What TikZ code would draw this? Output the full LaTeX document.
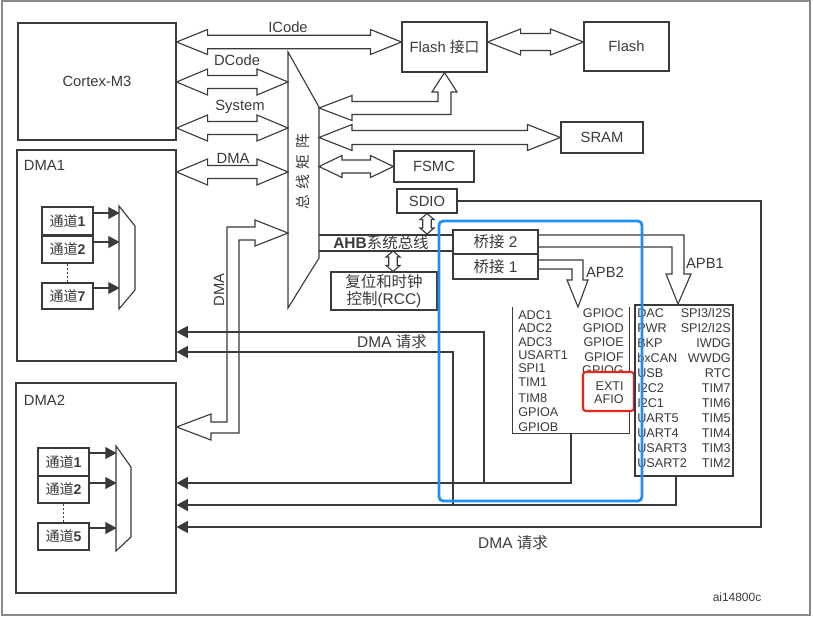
\documentclass[tikz,border=0pt]{standalone}
\usepackage{fontspec}
\setmainfont{Liberation Sans}
\newfontfamily\cjk{Noto Sans CJK SC}
\usepackage{tikz}
\usetikzlibrary{calc,arrows.meta}
\definecolor{ink}{HTML}{3A3A3A}
\definecolor{framegray}{HTML}{8A8A8A}
\definecolor{hlblue}{HTML}{1E90F5}
\definecolor{hlred}{HTML}{E8261E}

% hollow double bus arrow: left tip, right tip, shaft half, head half, head length
\newcommand{\busarrowh}[5]{%
  \coordinate (hl) at (#1);
  \coordinate (hr) at (#2);
  \draw[bus] (hl) -- ($(hl)+(#5,-#4)$) -- ($(hl)+(#5,-#3)$) -- ($(hr)+(-#5,-#3)$)
    -- ($(hr)+(-#5,-#4)$) -- (hr) -- ($(hr)+(-#5,#4)$) -- ($(hr)+(-#5,#3)$)
    -- ($(hl)+(#5,#3)$) -- ($(hl)+(#5,#4)$) -- cycle;}
% same, vertical: top tip, bottom tip
\newcommand{\busarrowv}[5]{%
  \coordinate (vt) at (#1);
  \coordinate (vb) at (#2);
  \draw[bus] (vt) -- ($(vt)+(#4,#5)$) -- ($(vt)+(#3,#5)$) -- ($(vb)+(#3,-#5)$)
    -- ($(vb)+(#4,-#5)$) -- (vb) -- ($(vb)+(-#4,-#5)$) -- ($(vb)+(-#3,-#5)$)
    -- ($(vt)+(-#3,#5)$) -- ($(vt)+(-#4,#5)$) -- cycle;}

\begin{document}
\begin{tikzpicture}[x=0.025cm, y=-0.025cm,
  every node/.style={text=ink},
  lbl/.style={font=\fontsize{10.5}{12}\selectfont},
  small/.style={font=\fontsize{9}{10}\selectfont, inner sep=0pt},
  sized/.style 2 args={minimum width=#1*0.025cm, minimum height=#2*0.025cm},
  box/.style={draw=ink, line width=0.8pt, fill=white, inner sep=0pt, lbl},
  chan/.style={box, sized={51}{27}, font=\fontsize{10}{12}\selectfont},
  bus/.style={draw=ink, line width=0.8pt, fill=white, line join=miter},
  line/.style={draw=ink, line width=0.8pt},
  req/.style={line, -{Triangle[length=8pt,width=8.5pt]}}]
  \useasboundingbox (0,0) rectangle (813,618);
  \draw[framegray, line width=1.2pt] (2,1) rectangle (810,615);

  % Core, memories, peripherals on AHB
  \node[box, sized={158}{117}] (cortex) at (97,81.5) {Cortex-M3};
  \node[box, sized={85}{50}] (flashif) at (444.5,47) {Flash {\cjk 接口}};
  \node[box, sized={85}{49}] (flash) at (626.5,46.5) {Flash};
  \node[box, sized={82}{31}] (sram) at (602,137.5) {SRAM};
  \node[box, sized={80}{31}] (fsmc) at (434,166.5) {FSMC};
  \node[box, sized={60}{24}] (sdio) at (427,201) {SDIO};
  \node[box, sized={106}{38}, align=center, font=\fontsize{11}{11.5}\selectfont] (rcc)
    at (384,291) {{\cjk 复位和时钟}\\{\cjk 控制}(RCC)};
  \node[box, sized={85}{24}, font=\fontsize{11}{12}\selectfont] (bridgetwo) at (495.5,242) {{\cjk 桥接} 2};
  \node[box, sized={85}{25}, font=\fontsize{11}{12}\selectfont] (bridgeone) at (495.5,266.5) {{\cjk 桥接} 1};

  % DMA1
  \node[box, sized={159}{211}] (dmaone) at (96.5,255.5) {};
  \node[lbl, anchor=west] (dmaonetitle) at (19,165) {DMA1};
  \node[chan, sized={51}{28}] (chone) at (67.5,221) {{\cjk 通道}\textbf{1}};
  \node[chan, sized={51}{28}] (chtwo) at (67.5,249) {{\cjk 通道}\textbf{2}};
  \node[chan, sized={51}{26}] (chseven) at (67.5,296) {{\cjk 通道}\textbf{7}};
  \draw[line, line width=1.8pt] (chone.south west) -- (chone.south east);
  \draw[line, dash pattern=on 1.5pt off 1.5pt] (chtwo.south) -- (chseven.north);
  \draw[line] (119,206) -- (135,226) -- (135,290) -- (119,309) -- cycle;
  \foreach \c/\dy in {chone/-8, chtwo/-7, chseven/-8}
    \draw[req] ($(\c.east)+(0,\dy)$) -- ++(26,0);

  % DMA2
  \node[box, sized={160}{210}] (dmatwo) at (96,488) {};
  \node[lbl, anchor=west] (dmatwotitle) at (19,400) {DMA2};
  \node[chan, sized={51}{27.5}] (cone) at (63.5,461.75) {{\cjk 通道}\textbf{1}};
  \node[chan, sized={51}{27.5}] (ctwo) at (63.5,489.25) {{\cjk 通道}\textbf{2}};
  \node[chan, sized={51}{27}] (cfive) at (63.5,536.5) {{\cjk 通道}\textbf{5}};
  \draw[line, line width=1.8pt] (cone.south west) -- (cone.south east);
  \draw[line, dash pattern=on 1.5pt off 1.5pt] (ctwo.south) -- (cfive.north);
  \draw[line] (116,446) -- (131,467) -- (131,537) -- (116,551) -- cycle;
  \foreach \c/\dy in {cone/-8.75, ctwo/-6.25, cfive/-8.5}
    \draw[req] ($(\c.east)+(0,\dy)$) -- ++(27,0);

  % Bus matrix
  \coordinate (bmtop) at (288,52);
  \coordinate (bmright) at (319,107);
  \draw[line, fill=white] (bmtop) -- (bmright) -- (319,258) -- (288,308) -- cycle;
  \node[lbl, rotate=90] (bmlabel) at (303,172) {\cjk 总\hspace{4pt}线\hspace{4pt}矩\hspace{4pt}阵};

  % Buses
  \busarrowh{cortex.east |- 0,42}{flashif.west |- 0,42}{6.7}{12.5}{31}
  \busarrowh{cortex.east |- 0,82}{bmtop |- 0,82}{6.5}{13}{31}
  \busarrowh{cortex.east |- 0,128}{bmtop |- 0,128}{6.5}{13}{31}
  \busarrowh{dmaone.east |- 0,172}{bmtop |- 0,172}{6.5}{13}{31}
  \busarrowh{flashif.east |- 0,42}{flash.west |- 0,42}{8.5}{13}{33}
  \busarrowh{bmright |- sram.west}{sram.west}{7}{13}{33}
  \busarrowh{bmright |- fsmc.west}{fsmc.west}{6.5}{11}{23}
  \node[lbl] (icode) at (288,27) {ICode};
  \node[lbl] (dcode) at (237,60) {DCode};
  \node[lbl] (system) at (240,107) {System};
  \node[lbl] (dmabus) at (233,158) {DMA};

  \draw[bus] (bmright |- 0,108) -- (352,95.5) -- (352,101.5) -- (438,101.5) -- (438,92) -- (432,92)
    -- (flashif.south) -- (457,92) -- (451,92) -- (451,114.5) -- (352,114.5) -- (352,120.5) -- cycle;
  \draw[bus] (bmtop |- 0,233) -- (255,220) -- (255,227) -- (227,227) -- (227,422) -- (211,422) -- (211,414)
    -- (dmatwo.east |- 0,427) -- (211,440) -- (211,433) -- (239,433) -- (239,240) -- (255,240) -- (255,246) -- cycle;
  \node[lbl, rotate=90] (dmalabel) at (219,290) {DMA};

  % AHB system bus
  \draw[line] (bmright |- 0,235) -- (bridgetwo.west |- 0,235);
  \draw[line] (bmright |- 0,251) -- (bridgetwo.west |- 0,251);
  \node[font=\fontsize{11}{12}\selectfont] (ahb) at (381,243) {\textbf{AHB}{\cjk 系统总线}};
  \busarrowv{sdio.south}{sdio.south |- 0,234}{4.3}{7}{6}
  \coordinate (rccbus) at ($(rcc.north)+(9,0)$);
  \busarrowv{rccbus |- 0,251}{rccbus}{4.3}{7}{6}

  % APB1 / APB2
  \draw[bus, fill=none] (bridgetwo.east |- 0,235) -- (684,235) -- (684,274) -- (691,274) -- (678,304)
    -- (666,274) -- (672,274) -- (672,247) -- (bridgetwo.east |- 0,247);
  \draw[bus, fill=none] (bridgeone.east |- 0,260) -- (583,260) -- (583,280) -- (588,280) -- (578,307)
    -- (567,280) -- (572,280) -- (572,269) -- (bridgeone.east |- 0,269);
  \node[lbl] (apbonelabel) at (705,263) {APB1};
  \node[lbl] (apbtwolabel) at (605,272) {APB2};

  \node[sized={116}{126}, inner sep=0pt] (apbtwo) at (571,370) {};
  \draw[line] (apbtwo.north west) |- (apbtwo.south east) -- (apbtwo.north east);
  \foreach \name/\y [count=\i] in {ADC1/315, ADC2/328, ADC3/342, USART1/355, SPI1/368,
      TIM1/382, TIM8/398, GPIOA/412, GPIOB/427}
    \node[small, anchor=west] (apbtwoL\i) at (518,\y) {\name};
  \foreach \name/\y [count=\i] in {GPIOC/313, GPIOD/328, GPIOE/342, GPIOF/357, GPIOG/370}
    \node[small, anchor=east] (apbtwoR\i) at (624,\y) {\name};
  \node[draw=hlred, line width=1.5pt, rounded corners=2pt, fill=white, sized={51}{39}] (hlbox) at (608.5,391.5) {};
  \node[small, anchor=east] (exti) at (624,386) {EXTI};
  \node[small, anchor=east] (afio) at (624,399) {AFIO};

  \node[box, sized={98}{171}] (apbone) at (684,390.5) {};
  \foreach \name [count=\i from 0] in {DAC, PWR, BKP, bxCAN, USB, I2C2, I2C1, UART5, UART4, USART3, USART2}
    \node[small, anchor=west] (apboneL\i) at (637,{313+15*\i}) {\name};
  \foreach \name [count=\i from 0] in {{SPI3/I2S}, {SPI2/I2S}, IWDG, WWDG, RTC, TIM7, TIM6, TIM5, TIM4, TIM3, TIM2}
    \node[small, anchor=east] (apboneR\i) at (731,{313+15*\i}) {\name};

  % DMA requests
  \coordinate (reqa) at (484,483);
  \coordinate (reqb) at (453,505);
  \coordinate (sdioturn) at (761,527);
  \draw[req] (apbtwo.south) |- (dmatwo.east |- reqa);
  \draw[req] (reqa) |- (dmaone.east |- 0,332);
  \draw[req] ($(apbone.south)+(-8,0)$) |- (dmatwo.east |- reqb);
  \draw[req] (reqb) |- (dmaone.east |- 0,352);
  \draw[req] (sdio.east) -| (sdioturn) -- (dmatwo.east |- sdioturn);
  \node[font=\fontsize{11}{12}\selectfont] (reqlabelone) at (392,342) {DMA {\cjk 请求}};
  \node[font=\fontsize{11}{12}\selectfont] (reqlabeltwo) at (513,543) {DMA {\cjk 请求}};

  \node[font=\fontsize{8.5}{10}\selectfont] (docid) at (737,597) {ai14800c};

  % highlight
  \draw[hlblue, line width=2pt, rounded corners=3pt] (439,221) rectangle (642,501);
\end{tikzpicture}
\end{document}
